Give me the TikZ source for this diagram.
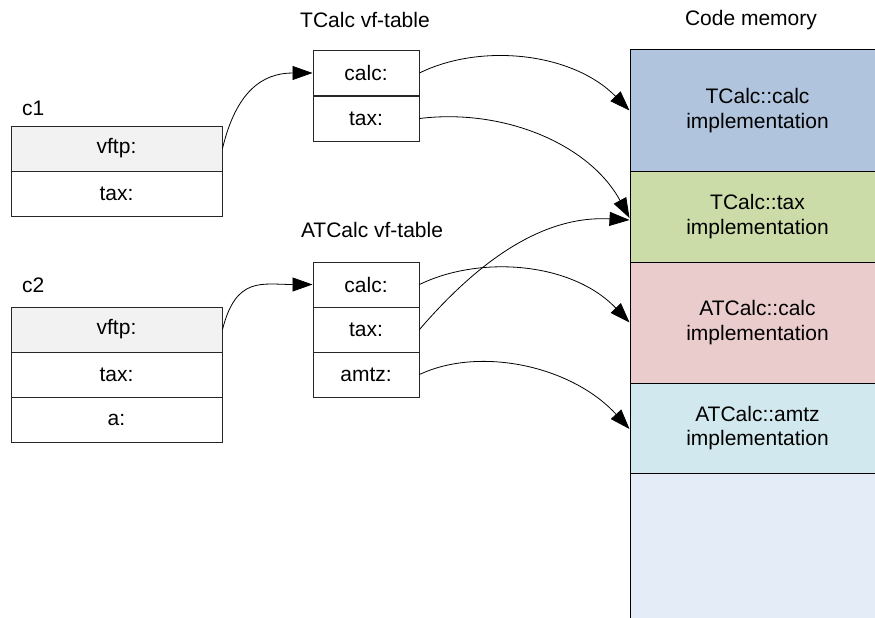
\documentclass[tikz,border=0pt]{standalone}
\usepackage{fontspec}
\setmainfont{Liberation Sans}
\usetikzlibrary{arrows.meta}
\begin{document}
\begin{tikzpicture}[x=1pt,y=-1pt,
  font=\fontsize{21}{24.5}\selectfont,
  cell/.style={draw=black!85, line width=1pt, inner sep=0pt, minimum width=211pt, minimum height=45pt, fill=white},
  vcell/.style={draw=black!85, line width=1pt, inner sep=0pt, minimum width=106pt, minimum height=45pt, fill=white},
  mem/.style={draw=black, line width=1pt, inner sep=0pt, minimum width=255pt, align=center},
  title/.style={inner sep=0pt},
  ptr/.style={-{Triangle[length=20pt,width=14pt]}, line width=0.8pt, black}]
\useasboundingbox (0,0) rectangle (875,618);
\fill[white] (0,0) rectangle (875,618);

% code memory
\node[mem, fill={rgb,255:red,228;green,236;blue,247}, minimum height=160pt] (mfree) at (757.5,553) {};
\node[mem, fill={rgb,255:red,176;green,196;blue,222}, minimum height=121pt] (mblue) at (757.5,110.5) {TCalc::calc\\implementation};
\node[mem, fill={rgb,255:red,204;green,220;blue,168}, minimum height=91pt] (mgreen) at (757.5,216.5) {TCalc::tax\\implementation};
\node[mem, fill={rgb,255:red,235;green,204;blue,204}, minimum height=121pt] (mred) at (757.5,322.5) {ATCalc::calc\\implementation};
\node[mem, fill={rgb,255:red,209;green,233;blue,238}, minimum height=90pt] (mcyan) at (757.5,428) {ATCalc::amtz\\implementation};
\node[title] (tmem) at (751,20) {Code memory};

% objects
\node[title, anchor=west] (lc1) at (22,108) {c1};
\node[cell, fill={rgb,255:red,242;green,242;blue,242}] (c1v) at (116.5,148.5) {vftp:};
\node[cell] (c1t) at (116.5,193.5) {tax:};

\node[title, anchor=west] (lc2) at (22,285) {c2};
\node[cell, fill={rgb,255:red,242;green,242;blue,242}] (c2v) at (116.5,329.5) {vftp:};
\node[cell] (c2t) at (116.5,374.5) {tax:};
\node[cell] (c2a) at (116.5,419.5) {a:};

% vf-tables
\node[title] (tt1) at (365,20) {TCalc vf-table};
\node[vcell] (t1c) at (366,73) {calc:};
\node[vcell] (t1t) at (366,118.5) {tax:};

\node[title] (tt2) at (372,230) {ATCalc vf-table};
\node[vcell] (t2c) at (366,284.5) {calc:};
\node[vcell] (t2t) at (366,329.5) {tax:};
\node[vcell] (t2a) at (366,374.5) {amtz:};

% pointers
\draw[ptr] (c1v.east) .. controls (236,92) and (262,73) .. (t1c.west);
\draw[ptr] (c2v.east) .. controls (236,276) and (262,284.5) .. (t2c.west);
\draw[ptr] (t1c.east) .. controls (480,43) and (572,52) .. (mblue.west);
\draw[ptr] (t1t.east) .. controls (505,108) and (590,145) .. ([yshift=-1.5pt]mgreen.west);
\draw[ptr] (t2t.east) .. controls (475,265) and (540,215) .. ([yshift=-3.5pt]mgreen.west);
\draw[ptr] (t2c.east) .. controls (480,255) and (572,262) .. (mred.west);
\draw[ptr] (t2a.east) .. controls (480,346) and (572,366) .. ([yshift=-1pt]mcyan.west);
\end{tikzpicture}
\end{document}
